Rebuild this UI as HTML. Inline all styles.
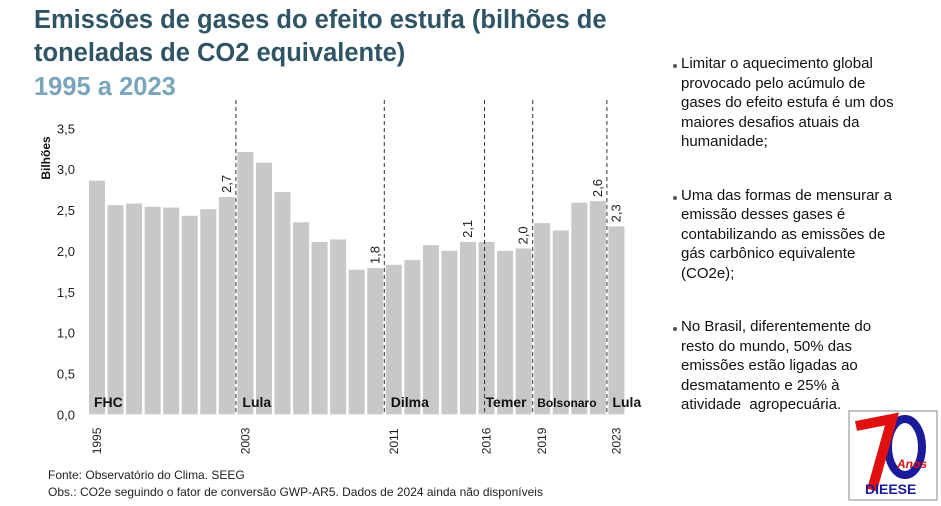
<!DOCTYPE html>
<html><head><meta charset="utf-8">
<style>
body{margin:0;width:941px;height:506px;background:#fff;overflow:hidden;font-family:"Liberation Sans",sans-serif;position:relative}
.t{position:absolute;left:34px;font-weight:bold;font-size:25.5px;color:#2e5465;line-height:33px}
.side{position:absolute;left:672px;font-size:15px;line-height:19.5px;color:#111;width:232px}
.side div{position:relative;padding-left:9px}
.side div:before{content:"";position:absolute;left:1px;top:10px;width:4px;height:4px;border-radius:2px;background:#555}
.foot{position:absolute;left:48px;font-size:12px;color:#222}
</style></head><body>
<div class="t" style="top:4px">Emissões de gases do efeito estufa (bilhões de<br>toneladas de CO2 equivalente)</div>
<div class="t" style="top:71px;color:#7aa6bb">1995 a 2023</div>
<div class="side" style="top:54px">
<div>Limitar o aquecimento global provocado pelo acúmulo de gases do efeito estufa é um dos maiores desafios atuais da humanidade;</div>
<div style="margin-top:34px">Uma das formas de mensurar a emissão desses gases é contabilizando as emissões de gás carbônico equivalente (CO2e);</div>
<div style="margin-top:34px">No Brasil, diferentemente do resto do mundo, 50% das emissões estão ligadas ao desmatamento e 25% à atividade&nbsp; agropecuária.</div>
</div>
<div class="foot" style="top:468px">Fonte: Observatório do Clima. SEEG</div>
<div class="foot" style="top:485px">Obs.: CO2e seguindo o fator de conversão GWP-AR5. Dados de 2024 ainda não disponíveis</div>
<svg id="chart" width="941" height="506" style="position:absolute;left:0;top:0"></svg>
<svg width="90" height="92" style="position:absolute;left:848px;top:410px">
<rect x="1" y="1" width="88" height="89" fill="#fff" stroke="#888"/>
<ellipse cx="57" cy="37" rx="17" ry="28" fill="none" stroke="#1a1a9a" stroke-width="8"/>
<path d="M8 16 L44 9 L24 80" fill="none" stroke="#e01010" stroke-width="10"/>
<text x="49" y="58" font-size="12" font-weight="bold" font-style="italic" fill="#e01010" font-family="Liberation Sans,sans-serif">Anos</text>
<text x="17" y="84" font-size="14" font-weight="bold" fill="#1a1a9a" font-family="Liberation Sans,sans-serif">DIEESE</text>
</svg>
<script>
const years=[1995,1996,1997,1998,1999,2000,2001,2002,2003,2004,2005,2006,2007,2008,2009,2010,2011,2012,2013,2014,2015,2016,2017,2018,2019,2020,2021,2022,2023];
const values=[2.86,2.56,2.58,2.54,2.53,2.43,2.51,2.66,3.21,3.08,2.72,2.35,2.11,2.14,1.77,1.79,1.83,1.89,2.07,2.0,2.11,2.11,2.0,2.03,2.34,2.25,2.59,2.61,2.30];
const yTicks=[0,0.5,1,1.5,2,2.5,3,3.5];
const yearLabels=[1995,2003,2011,2016,2019,2023];
const boundaries=[2003,2011,2016,2019,2023];
const presidents=["FHC","Lula","Dilma","Temer","Bolsonaro","Lula"];
const presStart=[1995,2003,2011,2016,2019,2023];
const labeled=[2002,2010,2015,2018,2022,2023];
const NS="http://www.w3.org/2000/svg";
const svg=document.getElementById('chart');
const x0=88,band=18.55,bw=16,y0=414.3,ppu=81.7;
const X=y=>x0+(y-years[0])*band;
const Y=v=>y0-v*ppu;
function mk(t,a,txt){const e=document.createElementNS(NS,t);for(const k in a)e.setAttribute(k,a[k]);if(txt!==undefined)e.textContent=txt;svg.appendChild(e);return e;}
yTicks.forEach(t=>{
 const e=mk('text',{x:75,y:Y(t)+5,'text-anchor':'end','font-size':13,fill:'#222','font-family':'Liberation Sans,sans-serif'},t.toFixed(1).replace('.',','));
 
 
});
const yt=mk('text',{transform:'translate(50,158) rotate(-90)','text-anchor':'middle','font-size':12,'font-weight':'bold',fill:'#111','font-family':'Liberation Sans,sans-serif'},'Bilhões');


years.forEach((yr,i)=>{
 const r=mk('rect',{x:X(yr)+1,y:Y(values[i]),width:bw,height:values[i]*ppu,fill:'#c8c8c8'});
 
 
});
boundaries.forEach(b=>{
 const off=b===2016?7:-0.5;
 const l=mk('line',{x1:X(b)+off,x2:X(b)+off,y1:100,y2:y0,stroke:'#333','stroke-width':1,'stroke-dasharray':'4,3'});
 
 
});
labeled.forEach(yr=>{
 const v=values[years.indexOf(yr)];
 const cx=X(yr)+bw/2+5,cy=Y(v)-4;
 const e=mk('text',{transform:`translate(${cx},${cy}) rotate(-90)`,'font-size':13,fill:'#222','font-family':'Liberation Sans,sans-serif'},v.toFixed(1).replace('.',','));
 
 
});
yearLabels.forEach(yr=>{
 const cx=X(yr)+bw/2+5;
 const e=mk('text',{transform:`translate(${cx},${y0+40}) rotate(-90)`,'font-size':12,fill:'#222','font-family':'Liberation Sans,sans-serif'},yr);
 
 
});
presidents.forEach((p,i)=>{
 const dx=i===5?5:(p==='Temer'?8:(p==='Bolsonaro'?4:6));
 const e=mk('text',{x:X(presStart[i])+dx,y:407,'font-size':p==='Bolsonaro'?12:14,'font-weight':'bold',fill:'#111','font-family':'Liberation Sans,sans-serif'},p);
 
 
});
</script>
</body></html>
